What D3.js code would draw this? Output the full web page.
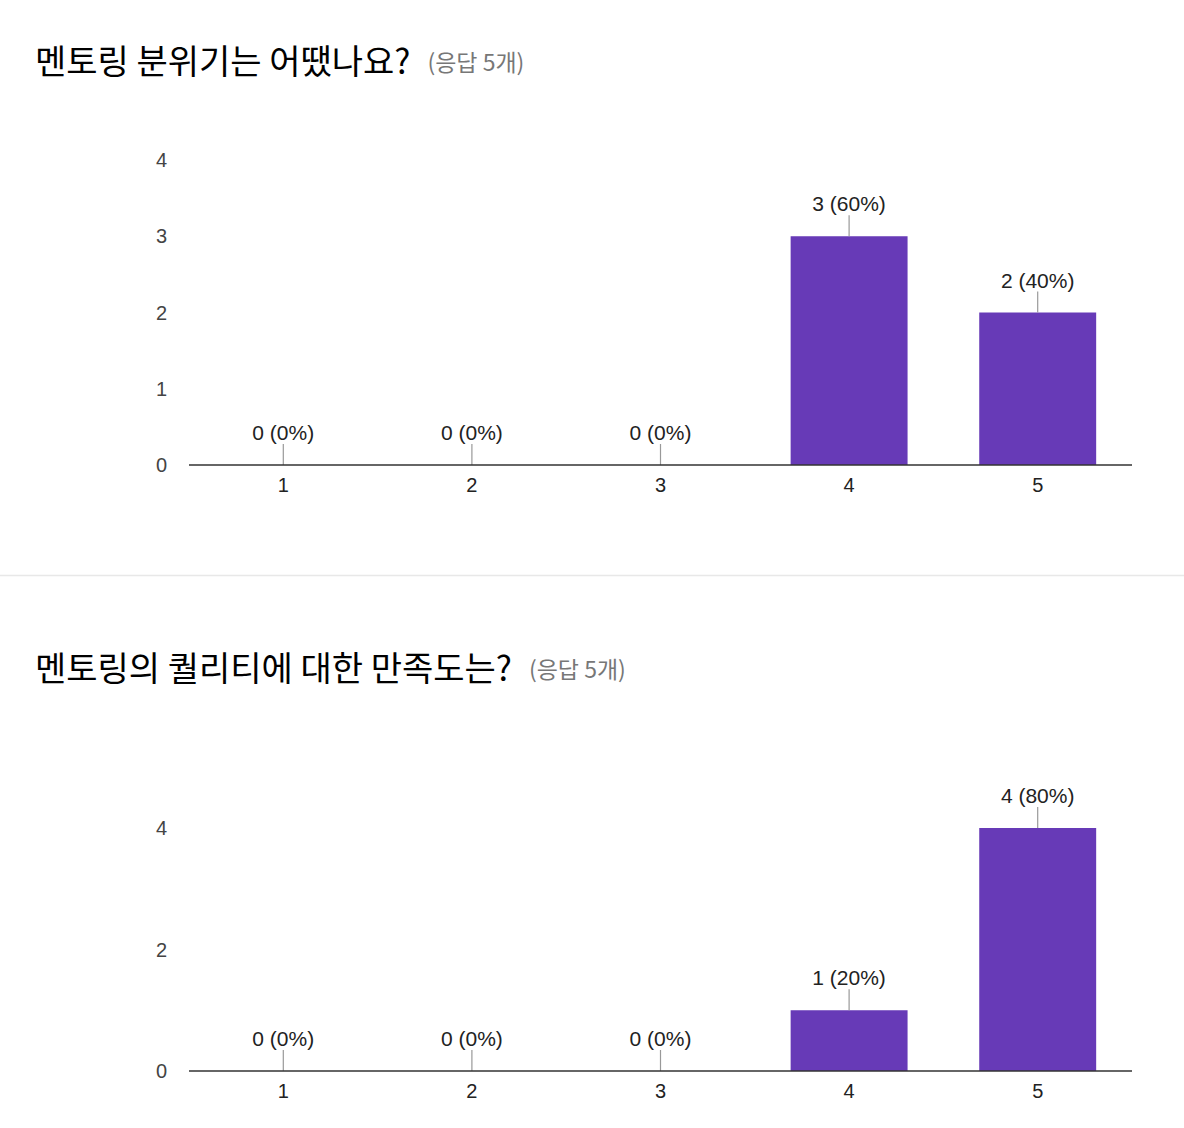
<!DOCTYPE html>
<html>
<head>
<meta charset="utf-8">
<script src="https://cdn.jsdelivr.net/npm/d3@7"></script>
<style>
  body { margin: 0; padding: 0; background: #fff; }
  svg { display: block; }
  .title { font-family: "Noto Sans CJK KR", "Noto Sans", sans-serif; fill: #000; font-weight: 400; }
  .count { font-family: "Noto Sans CJK KR", "Noto Sans", sans-serif; fill: #777; }
  .tick-label, .val-label { font-family: "Liberation Sans", Arial, sans-serif; }
</style>
</head>
<body>
<svg id="chart"></svg>
<script>
// survey answers, scale 1..5
const categories = ["1", "2", "3", "4", "5"];
const atmosphereCounts = [0, 0, 0, 3, 2];
const qualityCounts = [0, 0, 0, 1, 4];
const atmosphereTicks = [0, 1, 2, 3, 4];
const qualityTicks = [0, 2, 4];
const titles = ["멘토링 분위기는 어땠나요?", "멘토링의 퀄리티에 대한 만족도는?"];
const responseNote = "(응답 5개)";

const W = 1184, H = 1128;
const svg = d3.select("#chart").attr("width", W).attr("height", H);

const barColor = "#673ab7";

function drawChart(opts) {
  const g = svg.append("g");
  const total = d3.sum(opts.counts);

  // title + response count
  const t = g.append("text")
    .attr("class", "title")
    .attr("x", 35)
    .attr("y", opts.titleY)
    .attr("font-size", "34px")
    .text(opts.title);
  const tw = t.node().getComputedTextLength();
  g.append("text")
    .attr("class", "count")
    .attr("x", 35 + tw + 17)
    .attr("y", opts.titleY - 3)
    .attr("font-size", "23px")
    .text(responseNote);

  const x = d3.scaleBand()
    .domain(categories)
    .range([189, 1132])
    .paddingInner(0.38)
    .paddingOuter(0.19);

  const y = d3.scaleLinear()
    .domain([0, 4])
    .range([opts.base, opts.top]);

  // y tick labels (no gridlines)
  g.selectAll(".ytick")
    .data(opts.ticks)
    .join("text")
    .attr("class", "tick-label")
    .attr("x", 167)
    .attr("y", d => y(d))
    .attr("dy", "0.35em")
    .attr("text-anchor", "end")
    .attr("font-size", "20px")
    .attr("fill", "#444")
    .text(d => d);

  // bars
  g.selectAll(".bar")
    .data(opts.counts)
    .join("rect")
    .attr("x", (d, i) => x(categories[i]))
    .attr("y", d => y(d))
    .attr("width", x.bandwidth())
    .attr("height", d => y(0) - y(d))
    .attr("fill", barColor);

  // leader lines + value labels
  g.selectAll(".lead")
    .data(opts.counts)
    .join("line")
    .attr("x1", (d, i) => x(categories[i]) + x.bandwidth() / 2)
    .attr("x2", (d, i) => x(categories[i]) + x.bandwidth() / 2)
    .attr("y1", d => y(d))
    .attr("y2", d => y(d) - 21)
    .attr("stroke", "#999")
    .attr("stroke-width", 1.2);

  g.selectAll(".val")
    .data(opts.counts)
    .join("text")
    .attr("class", "val-label")
    .attr("x", (d, i) => x(categories[i]) + x.bandwidth() / 2)
    .attr("y", d => y(d) - 25)
    .attr("text-anchor", "middle")
    .attr("font-size", "21px")
    .attr("fill", "#222")
    .text(d => `${d} (${Math.round(d / total * 100)}%)`);

  // baseline axis
  g.append("line")
    .attr("x1", 189).attr("x2", 1132)
    .attr("y1", y(0)).attr("y2", y(0))
    .attr("stroke", "#333")
    .attr("stroke-width", 1.5);

  // x labels
  g.selectAll(".xtick")
    .data(categories)
    .join("text")
    .attr("class", "tick-label")
    .attr("x", d => x(d) + x.bandwidth() / 2)
    .attr("y", y(0) + 20)
    .attr("dy", "0.35em")
    .attr("text-anchor", "middle")
    .attr("font-size", "20px")
    .attr("fill", "#222")
    .text(d => d);
}

drawChart({ title: titles[0], titleY: 74, counts: atmosphereCounts, ticks: atmosphereTicks, base: 465, top: 160 });

// divider between the two questions
svg.append("line")
  .attr("x1", 0).attr("x2", W)
  .attr("y1", 575.5).attr("y2", 575.5)
  .attr("stroke", "#e8e8e8")
  .attr("stroke-width", 1.5);

drawChart({ title: titles[1], titleY: 681, counts: qualityCounts, ticks: qualityTicks, base: 1071, top: 828 });
</script>
</body>
</html>
